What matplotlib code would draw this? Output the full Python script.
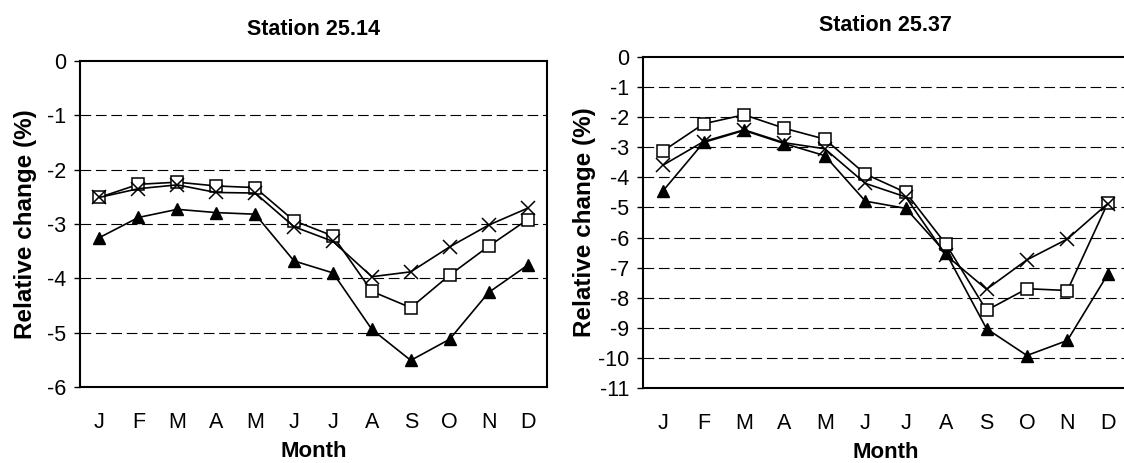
import matplotlib
matplotlib.use("Agg")
import matplotlib.pyplot as plt

plt.rcParams['font.family'] = ['Liberation Sans', 'DejaVu Sans']
plt.rcParams['axes.unicode_minus'] = False
plt.rcParams['lines.scale_dashes'] = False

months = ["J", "F", "M", "A", "M", "J", "J", "A", "S", "O", "N", "D"]

# Station 25.14
tri_2514 = [-3.25, -2.88, -2.73, -2.79, -2.82, -3.68, -3.90, -4.94, -5.51, -5.12, -4.26, -3.76]
sq_2514 = [-2.51, -2.27, -2.23, -2.30, -2.33, -2.94, -3.22, -4.24, -4.54, -3.94, -3.41, -2.92]
x_2514 = [-2.51, -2.35, -2.28, -2.42, -2.43, -3.05, -3.32, -3.97, -3.88, -3.42, -3.02, -2.71]

# Station 25.37
tri_2537 = [-4.44, -2.84, -2.44, -2.88, -3.28, -4.79, -5.03, -6.52, -9.03, -9.92, -9.42, -7.22]
sq_2537 = [-3.12, -2.22, -1.92, -2.37, -2.73, -3.89, -4.50, -6.23, -8.42, -7.70, -7.76, -4.85]
x_2537 = [-3.59, -2.81, -2.42, -2.85, -3.05, -4.20, -4.65, -6.59, -7.72, -6.74, -6.05, -4.87]

W, H = 1124, 463
fig = plt.figure(figsize=(W / 100, H / 100), dpi=100)

# axes boxes in pixels: left, top, right, bottom
ax1 = fig.add_axes([80 / W, 1 - 387 / H, (547 - 80) / W, (387 - 61) / H])
ax2 = fig.add_axes([643 / W, 1 - 388 / H, (1128 - 643) / W, (388 - 57) / H])


def draw_panel(ax, title, tri, sq, xs, ymin, ylabelpad):
    pos = range(len(months))
    ax.plot(pos, tri, color='black', lw=1.2, marker='^', ms=9,
            mfc='black', mec='black', zorder=3)
    ax.plot(pos, sq, color='black', lw=1.2, marker='s', ms=8.5,
            mfc='white', mec='black', mew=1.1, zorder=4)
    ax.plot(pos, xs, color='black', lw=1.2, marker='x', ms=10.5,
            mec='black', mew=1.1, zorder=5)

    ax.set_xlim(-0.5, len(months) - 0.5)
    ax.set_ylim(ymin, 0)
    ax.set_yticks(range(ymin, 1))
    ax.set_xticks(list(pos))
    ax.set_xticklabels(months)
    for y in range(ymin + 1, 0):
        ax.axhline(y, color='black', lw=0.8, ls=(0, (7.7, 3.4)), zorder=1)

    ax.tick_params(axis='y', direction='out', length=4, width=1,
                   labelsize=15.5, pad=6)
    ax.tick_params(axis='x', length=0, labelsize=15.5, pad=18)
    for s in ax.spines.values():
        s.set_linewidth(1.5)
        s.set_color('black')

    ax.set_title(title, fontsize=15.5, fontweight='bold', pad=19)
    ax.set_xlabel("Month", fontsize=16, fontweight='bold', labelpad=6)
    ax.set_ylabel("Relative change (%)", fontsize=17.5, fontweight='bold',
                  labelpad=ylabelpad)


draw_panel(ax1, "Station 25.14", tri_2514, sq_2514, x_2514, -6, 7)
draw_panel(ax2, "Station 25.37", tri_2537, sq_2537, x_2537, -11, 1.5)

fig.savefig("out.png", dpi=100, facecolor='white')
